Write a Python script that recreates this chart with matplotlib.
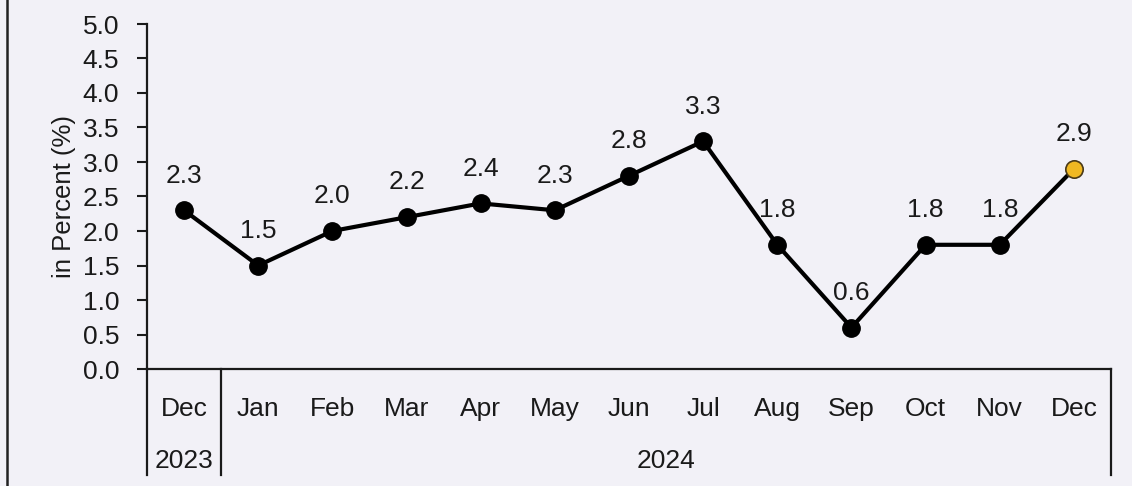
import matplotlib
matplotlib.use('Agg')
import matplotlib.pyplot as plt
from matplotlib.lines import Line2D
import matplotlib.transforms as mtransforms

# Data
months = ['Dec', 'Jan', 'Feb', 'Mar', 'Apr', 'May', 'Jun',
          'Jul', 'Aug', 'Sep', 'Oct', 'Nov', 'Dec']
years = ['2023', '2024']
values = [2.3, 1.5, 2.0, 2.2, 2.4, 2.3, 2.8, 3.3, 1.8, 0.6, 1.8, 1.8, 2.9]
yticks = [0.0, 0.5, 1.0, 1.5, 2.0, 2.5, 3.0, 3.5, 4.0, 4.5, 5.0]

bg = '#f2f1f7'
ink = '#1a1a1a'
fs = 19
plt.rcParams['font.family'] = ['Liberation Sans', 'DejaVu Sans']

fig = plt.figure(figsize=(11.32, 4.86), dpi=100, facecolor=bg)
ax = fig.add_axes([147 / 1132, 1 - 369 / 486, 964 / 1132, 345 / 486])
ax.set_facecolor(bg)

x = list(range(len(values)))
ax.plot(x, values, color='black', lw=3.0, zorder=2)
ax.plot(x[:-1], values[:-1], 'o', color='black', ms=12.5, zorder=3)
ax.plot(x[-1:], values[-1:], 'o', color='#f0b822', mec='#4a3a18',
        mew=1.2, ms=12.5, zorder=3)

for xi, v in zip(x, values):
    ax.annotate(f'{v:.1f}', (xi, v), xytext=(0, 25), textcoords='offset points',
                ha='center', va='center', fontsize=fs, color=ink)

ax.set_xlim(-0.5, len(values) - 0.5)
ax.set_ylim(0, 5.0)
ax.set_yticks(yticks)
ax.set_yticklabels([f'{t:.1f}' for t in yticks], fontsize=fs, color=ink)
ax.tick_params(axis='y', direction='out', length=7, width=1.5, color=ink, pad=13)
ax.set_ylabel('in Percent (%)', fontsize=18.5, color=ink, labelpad=5)

ax.set_xticks(x)
ax.set_xticklabels(months, fontsize=fs, color=ink)
ax.tick_params(axis='x', length=0, pad=20)

for side in ['top', 'right']:
    ax.spines[side].set_visible(False)
for side in ['left', 'bottom']:
    ax.spines[side].set_linewidth(1.6)
    ax.spines[side].set_color(ink)

# year row and separators below the axis
trans = mtransforms.blended_transform_factory(ax.transData, ax.transAxes)
bottom = -106 / 345
for xs in [-0.5, 0.5, len(values) - 0.5]:
    ax.add_line(Line2D([xs, xs], [0, bottom], transform=trans, color=ink,
                       lw=1.6, clip_on=False))
ax.text(0, -92 / 345, years[0], transform=trans, ha='center', va='center',
        fontsize=fs, color=ink)
ax.text((1 + len(values) - 1) / 2, -92 / 345, years[1], transform=trans,
        ha='center', va='center', fontsize=fs, color=ink)

# scanned page border on the left
fig.add_artist(Line2D([7 / 1132, 7 / 1132], [0, 1], color='#222222', lw=1.8))

plt.savefig('out.png', dpi=100, facecolor=bg)
